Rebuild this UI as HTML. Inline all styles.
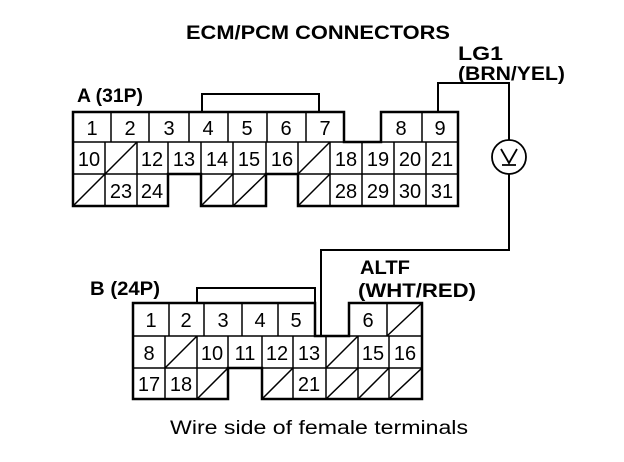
<!DOCTYPE html>
<html><head><style>
body{margin:0;background:#fff}
svg{display:block}
text{font-family:"Liberation Sans",sans-serif;fill:#000}
.n{font-size:20px;text-anchor:middle}
.b{font-weight:bold;font-size:19px}
</style></head><body>
<svg width="624" height="462" viewBox="0 0 624 462" xmlns="http://www.w3.org/2000/svg">
<g stroke="#000" fill="none" stroke-width="1.5">
<path stroke-width="2.5" d="M73,112 H344 V142 H381 V112 H458 V206 H298 V174 H266 V206 H201 V174 H168 V206 H73 Z"/>
<path d="M73,142 H344 M381,142 H458 M73,174 H458"/>
<path d="M111,112V142 M149,112V142 M189,112V142 M228,112V142 M267,112V142 M306,112V142 M422,112V142"/>
<path d="M105,142V206 M137,142V206 M168,142V174 M201,142V174 M233,142V206 M266,142V174 M298,142V174 M330,142V206 M362,142V206 M394,142V206 M426,142V206"/>
<path d="M105,174 L137,142 M298,174 L330,142 M73,206 L105,174 M201,206 L233,174 M233,206 L266,174 M298,206 L330,174"/>
<path stroke-width="2" d="M202,112 V94 H319 V112"/>
<path stroke-width="2" d="M438,112 V83 H509 V140 M509,174 V250 H321 V336"/>
<circle cx="509" cy="157" r="17" stroke-width="1.8"/>
<path stroke-width="1.8" d="M501,149 L509,163 L517,149 M502,165 H516"/>
<path stroke-width="2.5" d="M133,303 H315 V336 H349 V303 H422 V399 H262 V368 H228 V399 H133 Z"/>
<path d="M133,336 H422 M133,368 H422"/>
<path d="M169,303V336 M204,303V336 M242,303V336 M278,303V336 M387,303V336"/>
<path d="M165,336V399 M197,336V399 M228,336V368 M262,336V368 M293,336V399 M326,336V399 M358,336V399 M389,336V399"/>
<path d="M387,336 L422,303 M165,368 L197,336 M326,368 L358,336 M197,399 L228,368 M262,399 L293,368 M326,399 L358,368 M358,399 L389,368 M389,399 L422,368"/>
<path stroke-width="2" d="M197,303 V288 H315 V303"/>
</g>
<text class="b" x="186" y="39" textLength="264" lengthAdjust="spacingAndGlyphs">ECM/PCM CONNECTORS</text>
<text class="b" x="458" y="60" textLength="45" lengthAdjust="spacingAndGlyphs">LG1</text>
<text class="b" x="458" y="80" textLength="107" lengthAdjust="spacingAndGlyphs">(BRN/YEL)</text>
<text class="b" x="77" y="102" textLength="66" lengthAdjust="spacingAndGlyphs">A (31P)</text>
<text class="b" x="90" y="295" textLength="70" lengthAdjust="spacingAndGlyphs">B (24P)</text>
<text class="b" x="360" y="274" textLength="50" lengthAdjust="spacingAndGlyphs">ALTF</text>
<text class="b" x="358" y="297" textLength="118" lengthAdjust="spacingAndGlyphs">(WHT/RED)</text>
<text x="170" y="434" style="font-size:19px" textLength="298" lengthAdjust="spacingAndGlyphs">Wire side of female terminals</text>
<g class="n">
<text x="92" y="135">1</text><text x="130" y="135">2</text><text x="169" y="135">3</text><text x="208" y="135">4</text><text x="247" y="135">5</text><text x="286" y="135">6</text><text x="325" y="135">7</text><text x="401" y="135">8</text><text x="440" y="135">9</text>
<text x="89" y="166">10</text><text x="152" y="166">12</text><text x="184" y="166">13</text><text x="217" y="166">14</text><text x="249" y="166">15</text><text x="282" y="166">16</text><text x="346" y="166">18</text><text x="378" y="166">19</text><text x="410" y="166">20</text><text x="442" y="166">21</text>
<text x="121" y="198">23</text><text x="152" y="198">24</text><text x="346" y="198">28</text><text x="378" y="198">29</text><text x="410" y="198">30</text><text x="442" y="198">31</text>
<text x="151" y="327">1</text><text x="186" y="327">2</text><text x="223" y="327">3</text><text x="260" y="327">4</text><text x="296" y="327">5</text><text x="368" y="327">6</text>
<text x="149" y="360">8</text><text x="212" y="360">10</text><text x="245" y="360">11</text><text x="277" y="360">12</text><text x="309" y="360">13</text><text x="373" y="360">15</text><text x="405" y="360">16</text>
<text x="149" y="391">17</text><text x="181" y="391">18</text><text x="309" y="391">21</text>
</g>
</svg>
</body></html>
